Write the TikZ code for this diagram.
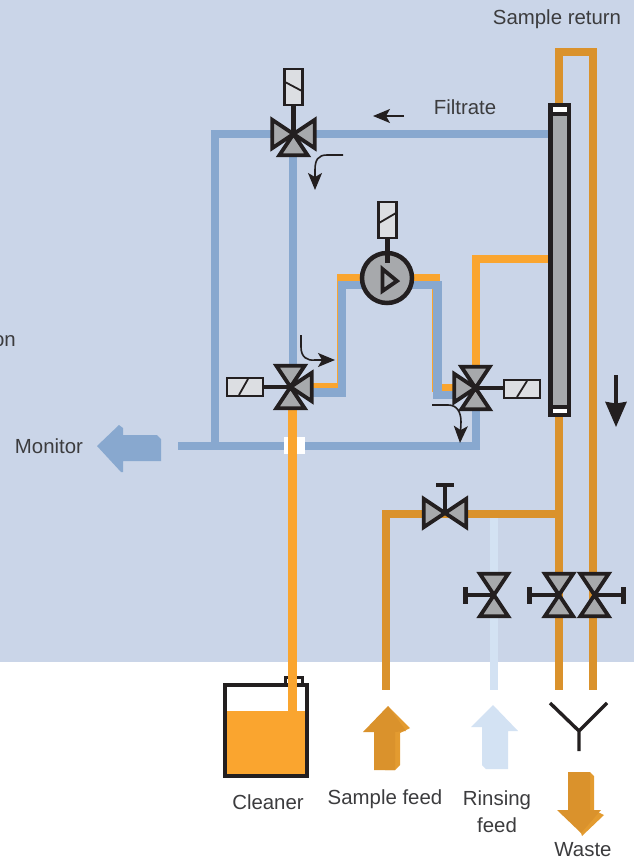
\documentclass[tikz,border=0pt]{standalone}
\usepackage{fontspec}
\setmainfont{Liberation Sans}
\usetikzlibrary{arrows.meta}
\definecolor{bgblue}{HTML}{CAD5E8}
\definecolor{pipeblue}{HTML}{88A8CF}
\definecolor{pipepale}{HTML}{D3E2F3}
\definecolor{pipeorange}{HTML}{FAA52F}
\definecolor{pipedark}{HTML}{DA922C}
\definecolor{bevel}{HTML}{E39B30}
\definecolor{ink}{HTML}{231F20}
\definecolor{valvegrey}{HTML}{A7A9AC}
\definecolor{solgrey}{HTML}{DCDEE2}
\definecolor{txt}{HTML}{3C3C3E}
\tikzset{
  x=1pt,y=-1pt,
  pipe/.style={line width=8.4pt,line join=miter},
  bluepipe/.style={pipe,draw=pipeblue},
  palepipe/.style={pipe,draw=pipepale},
  orangepipe/.style={pipe,draw=pipeorange},
  darkpipe/.style={pipe,draw=pipedark},
  valveline/.style={draw=ink,line width=3.8pt,fill=valvegrey,line join=miter,miter limit=10},
  stem/.style={draw=ink,line width=4.8pt},
  solbox/.style={draw=ink,line width=2.6pt,fill=solgrey},
  flowarrow/.style={draw=ink,line width=1.6pt,-{Stealth[length=17pt,width=14pt,inset=4pt]}},
  bigarrow/.style={draw=ink,line width=3.6pt,-{Stealth[length=25pt,width=21pt,inset=1.5pt]}},
  label/.style={text=txt,font=\fontsize{20.4}{24}\selectfont,inner sep=0pt,align=center},
  vtri/.pic={\path[valveline] (0,0)--(21.3,-14.2)--(21.3,14.2)--cycle;},
}
\begin{document}
\begin{tikzpicture}
\useasboundingbox (0,0) rectangle (634,861);
\fill[white] (0,0) rectangle (634,861);
\fill[bgblue] (0,0) rectangle (634,662);

% named points
\coordinate (vA) at (293.5,134);
\coordinate (vB) at (290.5,387);
\coordinate (vC) at (475.5,388);
\coordinate (vD) at (445,513);
\coordinate (vE) at (494,595);
\coordinate (vF) at (559,595);
\coordinate (vG) at (594.5,595);
\coordinate (pump) at (387,278);
\coordinate (pumpB) at (387,285);
\coordinate (colL) at (549,134);
\coordinate (monEnd) at (178,446);

% blue pipes
\draw[bluepipe] (colL) -- (215,134) -- (215,446);
\draw[bluepipe] (293,134) -- (293,372);
\draw[bluepipe] (monEnd) -- (476,446) -- (476,405);

% orange under blue
\draw[orangepipe] (312,387) -- (341,387) -- (341,278) -- (pump);
\draw[orangepipe] (pump) -- (436,278) -- (436,388) -- (vC);
\draw[bluepipe] (vB) ++(20,5.5) -- (342,392.5) -- (342,285) -- (pumpB);
\draw[bluepipe] (pumpB) -- (437.5,285) -- (437.5,395) -- (456,395);
\draw[orangepipe] (476,372) -- (476,259) -- (549,259);

% cleaner line
\fill[white] (284,437) rectangle (305,454);
\draw[orangepipe] (292.5,405) -- (292.5,690);

% dark orange pipes
\draw[darkpipe] (559,110) -- (559,52) -- (593,52) -- (593,690);
\draw[darkpipe] (559,412) -- (559,690);
\draw[darkpipe] (559,514) -- (386,514) -- (386,690);
\draw[palepipe] (494,518) -- (494,690);

% column
\fill[ink] (548,103) rectangle (571,417);
\fill[valvegrey] (552.5,116) rectangle (567,405);
\fill[white] (552.5,107) rectangle (567,112);
\fill[white] (552.5,409) rectangle (567,413);

% valve A
\draw[solbox] (284.5,69) rectangle (302.5,105);
\draw[ink,line width=1.8pt] (285,82) -- (302,91);
\draw[stem] (293.5,105) -- (vA);
\pic at (vA) {vtri}; \pic[rotate=180] at (vA) {vtri}; \pic[rotate=-90] at (vA) {vtri};

% valve B
\draw[solbox] (227,378) rectangle (263,396);
\draw[ink,line width=1.8pt] (239,395) -- (248,379);
\draw[stem] (263,387) -- (vB);
\pic[rotate=90] at (vB) {vtri}; \pic[rotate=-90] at (vB) {vtri}; \pic at (vB) {vtri};

% valve C
\draw[solbox] (504,380) rectangle (540,398);
\draw[ink,line width=1.8pt] (517,397) -- (527,381);
\draw[stem] (504,388) -- (vC);
\pic[rotate=90] at (vC) {vtri}; \pic[rotate=-90] at (vC) {vtri}; \pic[rotate=180] at (vC) {vtri};

% valve D
\draw[stem] (vD) -- (445,485);
\draw[stem] (436,485) -- (454,485);
\pic at (vD) {vtri}; \pic[rotate=180] at (vD) {vtri};

% valve E
\draw[stem] (vE) -- (467,595);
\draw[stem] (465.5,587) -- (465.5,604);
\pic[rotate=90] at (vE) {vtri}; \pic[rotate=-90] at (vE) {vtri};

% valve F
\draw[stem] (vF) -- (530,595);
\draw[stem] (529.5,587) -- (529.5,604);
\pic[rotate=90] at (vF) {vtri}; \pic[rotate=-90] at (vF) {vtri};

% valve G
\draw[stem] (vG) -- (623,595);
\draw[stem] (623.5,587) -- (623.5,604);
\pic[rotate=90] at (vG) {vtri}; \pic[rotate=-90] at (vG) {vtri};

% pump
\draw[solbox] (378.5,202) rectangle (396.5,238);
\draw[ink,line width=1.8pt] (379,223) -- (396,213);
\node[circle,draw=ink,line width=4.5pt,fill=valvegrey,minimum size=50pt,inner sep=0pt] (pumpc) at (pump) {};
\draw[stem] (387.5,238) -- (387.5,263);
\draw[draw=ink,line width=3.8pt,line join=miter] (382.5,269) -- (397,281) -- (382.5,291) -- cycle;

% flow arrows
\coordinate (fa1) at (404,116); \coordinate (fa2) at (373,116);
\draw[flowarrow] (fa1) -- (fa2);
\coordinate (fb1) at (343,155); \coordinate (fb2) at (315,190);
\draw[flowarrow] (fb1) -- (327,155) .. controls (318,155) and (315,160) .. (315,170) -- (fb2);
\coordinate (fc1) at (301,335); \coordinate (fc2) at (335,360);
\draw[flowarrow] (fc1) -- (301,347) .. controls (301,357) and (307,361) .. (315,360) -- (fc2);
\coordinate (fd1) at (432,405); \coordinate (fd2) at (460,443);
\draw[flowarrow] (fd1) -- (448,405) .. controls (457,405) and (461,412) .. (461,422) -- (fd2);
\coordinate (fe1) at (616,375); \coordinate (fe2) at (616,427);
\draw[bigarrow] (fe1) -- (fe2);

% cleaner tank
\fill[pipeorange] (225,711) rectangle (307,776);
\draw[ink,line width=4pt,line join=miter] (225,685) rectangle (307,776);
\draw[ink,line width=2.8pt] (285.3,686) -- (285.3,677.3) -- (302.7,677.3) -- (302.7,686);
\draw[orangepipe] (292.5,676) -- (292.5,712);

% feed arrows
\fill[bevel] (388,706) -- (410,728) -- (400,733) -- (400,765) -- (395,770) -- (385,770) -- (385,730) -- cycle;
\fill[pipedark] (388,706) -- (363,732) -- (374,732) -- (374,770) -- (395,770) -- (395,732) -- (406,731) -- cycle;
\fill[pipepale] (493,705) -- (518,731) -- (508,731) -- (508,769) -- (486,769) -- (482,765) -- (482,727) -- (471,727) -- cycle;
\draw[ink,line width=3.4pt,line join=miter] (550,703) -- (579,731) -- (607,703) (579,731) -- (579,751);
\fill[bevel] (590,772) -- (594,776) -- (594,810) -- (604,815) -- (582,836) -- (575,815) -- cycle;
\fill[pipedark] (568,772) -- (590,772) -- (590,810) -- (601,810) -- (581,833) -- (557,810) -- (568,810) -- cycle;
\fill[pipeblue] (97,446) -- (119,425) -- (123,428) -- (123,435) -- (157,435) -- (161,439) -- (161,461) -- (123,461) -- (123,472) -- (121,472) -- cycle;

% labels
\node[label] (lret) at (557,19) {Sample return};
\node[label] (lfil) at (465,107) {Filtrate};
\node[label,anchor=east] (lon) at (16,341) {on};
\node[label] (lmon) at (49,446) {Monitor};
\node[label] (lcle) at (268,802) {Cleaner};
\node[label] (lsam) at (385,799) {Sample feed};
\node[label] (lrin) at (497,800) {Rinsing};
\node[label] (lrif) at (497,825) {feed};
\node[label] (lwas) at (583,850) {Waste};
\end{tikzpicture}
\end{document}
